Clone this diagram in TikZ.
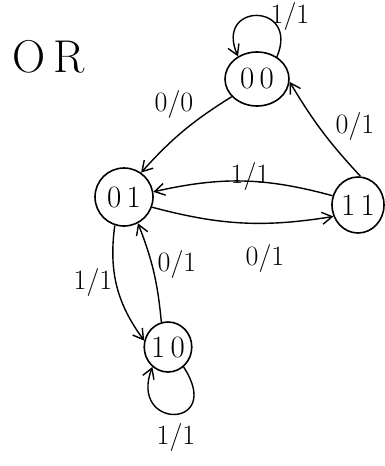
\documentclass[tikz,border=0pt]{standalone}
\usepackage{fontspec}
\usetikzlibrary{arrows.meta,shapes.geometric}
\begin{document}
\begin{tikzpicture}[x=1pt,y=-1pt,
  st/.style={draw,ellipse,line width=1.6pt,inner sep=0pt,font=\fontsize{31}{33}\selectfont},
  lbl/.style={font=\fontsize{28}{30}\selectfont,inner sep=1pt},
  edge/.style={draw,line width=1.4pt,-{Straight Barb[length=10pt,width=12pt]}}]
\useasboundingbox (0,0) rectangle (385,466);
\node (title) at (49,57) {\fontsize{46}{50}\selectfont O\,R};
\node[st,minimum width=64pt,minimum height=54pt] (n00) at (257,79) {0\,0};
\node[st,minimum width=58pt,minimum height=58pt] (n01) at (124,197) {0\,1};
\node[st,minimum width=52pt,minimum height=56pt] (n11) at (358,205) {1\,1};
\node[st,minimum width=47pt,minimum height=50pt] (n10) at (168,347) {1\,0};
% self loops
\draw[edge] (n00.48) .. controls (300,2) and (214,2) .. (n00.130);
\node[lbl] (l00) at (290,16) {1/1};
\draw[edge] (n10.-52) .. controls (225,430) and (128,430) .. (n10.-128);
\node[lbl] (l10) at (176,437) {1/1};
% transitions
\draw[edge] (n00.215) to[bend right=8] (n01.55);
\node[lbl] (l0001) at (174,104) {0/0};
\draw[edge] (n11.85) to[bend left=6] (n00.-5);
\node[lbl] (l1100) at (355,126) {0/1};
\draw[edge] (n11.160) to[bend right=14] (n01.10);
\node[lbl] (l1101) at (250,176) {1/1};
\draw[edge] (n01.-20) to[bend right=12] (n11.205);
\node[lbl] (l0111) at (265,258) {0/1};
\draw[edge] (n01.252) to[bend right=22] (n10.165);
\node[lbl] (l0110) at (93,282) {1/1};
\draw[edge] (n10.105) to[bend right=8] (n01.-62);
\node[lbl] (l1001) at (177,264) {0/1};
\end{tikzpicture}
\end{document}
